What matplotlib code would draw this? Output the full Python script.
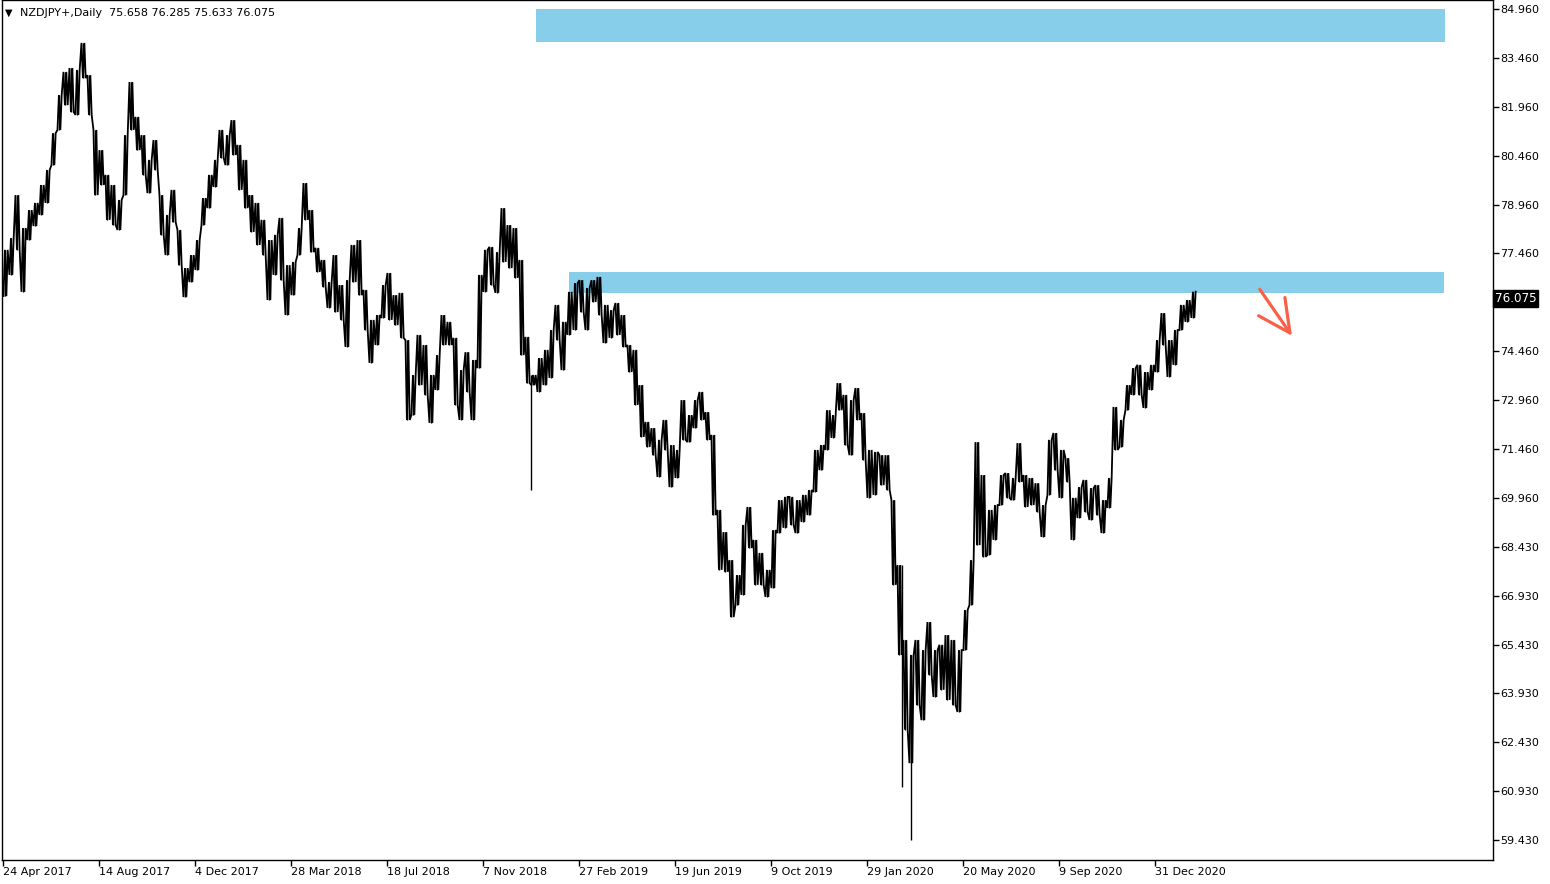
import numpy as np
import matplotlib
matplotlib.use('Agg')
import matplotlib.pyplot as plt
from matplotlib.patches import Rectangle
from matplotlib.transforms import blended_transform_factory

plt.rcParams['font.family'] = ['DejaVu Sans']

# weekly ranges (5 daily bars per block)
week_high = [
    77.57, 77.93, 79.25, 78.24, 78.79, 79.01, 79.56, 80.02, 81.15, 82.32,
    83.03, 83.15, 83.09, 83.92, 82.93, 81.25, 80.63, 79.87, 79.56, 79.10,
    81.09, 82.72, 81.65, 81.09, 80.33, 80.94, 79.25, 78.64, 79.41, 78.18,
    77.01, 77.41, 77.87, 79.16, 79.87, 80.33, 81.25, 81.09, 81.55, 80.79,
    80.33, 79.25, 79.01, 78.49, 77.87, 78.03, 78.55, 77.10, 77.20, 78.24,
    79.62, 78.79, 77.63, 77.26, 76.58, 77.41, 76.49, 76.64, 77.72, 77.87,
    76.34, 75.42, 75.57, 76.49, 76.86, 76.18, 76.25, 74.80, 73.73, 74.96,
    74.65, 73.73, 74.34, 75.57, 75.36, 74.87, 73.88, 74.43, 74.19, 76.80,
    77.57, 77.66, 77.50, 78.85, 78.33, 78.24, 77.26, 74.90, 73.73, 74.25,
    74.50, 75.11, 75.88, 75.36, 76.28, 76.55, 76.64, 76.40, 76.64, 76.74,
    75.88, 75.72, 75.94, 75.57, 74.65, 74.50, 73.42, 72.29, 72.10, 71.74,
    72.35, 71.58, 71.43, 72.96, 72.50, 72.96, 73.21, 72.59, 71.89, 69.59,
    68.91, 68.05, 67.59, 69.13, 69.68, 68.67, 68.27, 67.75, 68.97, 69.89,
    69.99, 69.99, 69.89, 70.05, 70.20, 71.43, 71.58, 72.65, 72.50, 73.48,
    73.12, 72.96, 73.33, 72.56, 71.43, 71.37, 71.27, 71.27, 69.89, 67.90,
    65.60, 65.14, 65.60, 65.29, 66.15, 65.29, 65.45, 65.75, 65.60, 65.29,
    66.52, 68.05, 71.67, 70.66, 69.59, 69.74, 70.66, 70.72, 70.57, 71.64,
    70.66, 70.57, 70.41, 69.74, 71.74, 71.95, 71.43, 71.18, 69.96, 70.29,
    70.51, 70.26, 70.35, 69.89, 70.57, 72.75, 72.35, 73.42, 73.94, 74.04,
    73.82, 74.04, 74.80, 75.63, 74.80, 75.11, 75.88, 76.03, 76.285,
]
week_low = [
    76.15, 76.80, 77.57, 76.28, 77.87, 78.30, 78.64, 79.01, 80.17, 81.25,
    82.01, 81.80, 81.71, 82.84, 81.71, 79.25, 79.56, 78.49, 78.33, 78.18,
    79.25, 81.25, 80.63, 79.87, 79.31, 80.02, 78.03, 77.41, 78.42, 77.10,
    76.12, 76.58, 76.95, 78.33, 78.85, 79.50, 80.39, 80.17, 80.48, 79.41,
    78.85, 78.12, 77.72, 77.41, 76.03, 76.80, 76.64, 75.57, 76.18, 77.41,
    78.49, 77.50, 76.89, 76.43, 75.79, 75.66, 75.42, 74.59, 76.58, 76.18,
    75.11, 74.10, 74.65, 75.48, 75.42, 75.26, 74.87, 72.35, 72.50, 73.42,
    73.12, 72.26, 73.27, 74.65, 74.65, 72.81, 72.35, 73.21, 72.35, 73.94,
    76.28, 76.49, 76.25, 77.20, 77.01, 76.71, 74.34, 73.48, 73.42, 73.21,
    73.42, 73.64, 74.80, 73.88, 74.96, 75.11, 75.66, 75.11, 75.97, 75.57,
    74.71, 74.87, 74.96, 74.59, 73.82, 72.81, 71.83, 71.52, 71.27, 70.60,
    71.43, 70.29, 70.57, 71.74, 71.67, 72.10, 72.35, 71.74, 69.43, 67.75,
    67.69, 66.30, 66.67, 66.98, 68.42, 67.29, 67.29, 66.92, 67.19, 68.88,
    69.04, 69.13, 68.88, 69.22, 69.43, 70.14, 70.81, 71.43, 71.80, 72.65,
    71.58, 71.27, 72.35, 71.12, 69.96, 70.05, 70.35, 70.20, 67.29, 65.14,
    62.85, 61.82, 63.60, 63.14, 64.53, 63.85, 64.07, 63.76, 63.60, 63.39,
    65.29, 66.67, 68.51, 68.15, 68.21, 68.67, 69.74, 69.96, 69.89, 70.45,
    69.68, 69.74, 69.53, 68.76, 70.05, 70.81, 69.96, 70.45, 68.67, 69.34,
    69.53, 69.28, 69.43, 68.88, 69.65, 71.43, 71.52, 72.65, 73.12, 73.12,
    72.72, 73.27, 73.82, 74.65, 73.67, 74.04, 75.11, 75.36, 75.48,
]
# single-day spikes (bar number, low)
spike_bar = [440, 749, 757]
spike_low = [70.20, 61.09, 59.46]

last_ohlc = [75.658, 76.285, 75.633, 76.075]

date_labels = ['24 Apr 2017', '14 Aug 2017', '4 Dec 2017', '28 Mar 2018', '18 Jul 2018',
               '7 Nov 2018', '27 Feb 2019', '19 Jun 2019', '9 Oct 2019', '29 Jan 2020',
               '20 May 2020', '9 Sep 2020', '31 Dec 2020']
price_labels = ['84.960', '83.460', '81.960', '80.460', '78.960', '77.460', '75.960',
                '74.460', '72.960', '71.460', '69.960', '68.430', '66.930', '65.430',
                '63.930', '62.430', '60.930', '59.430']

# supply zones: (first bar, last bar, bottom, top)
zones = [(444, 1202, 83.95, 84.96), (472, 1201, 76.25, 76.89)]

fig = plt.figure(figsize=(15.5, 8.84), dpi=100)
ax = fig.add_axes([2 / 1550, 24 / 884, 1491 / 1550, 860 / 884])

for x0, x1, lo, hi in zones:
    ax.add_patch(Rectangle((x0, lo), x1 - x0, hi - lo, facecolor='#87CEEB', edgecolor='none', zorder=1))

bars_per_block = 5
xs = np.arange(len(week_high)) * bars_per_block + 2
hi = np.array(week_high)
lo = np.array(week_low)
mid = (hi + lo) / 2

# zig-zag through each block's range, heading towards the next block
px, py = [], []
for j in range(len(xs)):
    up = mid[min(j + 1, len(xs) - 1)] >= mid[j]
    first, second = (lo[j], hi[j]) if up else (hi[j], lo[j])
    px += [xs[j] - 1.6, xs[j] - 0.4, xs[j] + 0.8, xs[j] + 1.9]
    py += [first, second, first, second]
ax.plot(px, py, color='black', linewidth=1.3, zorder=3, solid_joinstyle='miter')
ax.vlines(xs, lo, hi, color='black', linewidth=1.0, zorder=3)
for b, l in zip(spike_bar, spike_low):
    blk = b // bars_per_block
    ax.vlines(b, l, hi[blk], color='black', linewidth=1.0, zorder=3)

ax.annotate('', xy=(1075.5, 74.86), xytext=(1046, 76.43),
            arrowprops=dict(arrowstyle='->,head_length=2.3,head_width=1.15',
                            color='#F86148', lw=2.3, mutation_scale=10))

ax.set_xlim(-0.83, 1241.7)
ax.set_ylim(58.848, 85.236)

ax.set_xticks(np.arange(len(date_labels)) * 80)
ax.set_xticklabels(date_labels, fontsize=8)
for t in ax.get_xticklabels():
    t.set_ha('left')
ax.yaxis.tick_right()
ax.set_yticks(84.96 - 1.5 * np.arange(len(price_labels)))
ax.set_yticklabels(price_labels, fontsize=8)
ax.tick_params(axis='both', length=4, width=1, pad=1, colors='black')
for s in ax.spines.values():
    s.set_color('black')
    s.set_linewidth(1)

trans = blended_transform_factory(ax.transAxes, ax.transData)
ax.text(1.0012, last_ohlc[3], f'{last_ohlc[3]:.3f}', transform=trans, color='white', fontsize=8.6,
        va='center', ha='left', clip_on=False, zorder=10,
        bbox=dict(facecolor='black', edgecolor='black', pad=1.3))

fig.text(5 / 1550, 1 - 13 / 884, '\u25bc', fontsize=7, va='center', ha='left')
fig.text(20 / 1550, 1 - 13 / 884,
         'NZDJPY+,Daily  ' + ' '.join(f'{v:.3f}' for v in last_ohlc),
         fontsize=8, va='center', ha='left')

fig.savefig('out.png', dpi=100, facecolor='white')
